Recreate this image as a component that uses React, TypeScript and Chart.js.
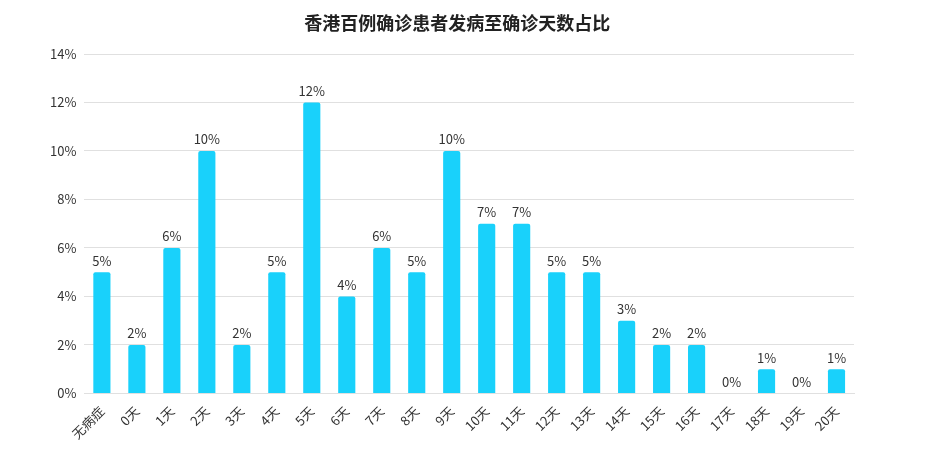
import React, { useEffect, useRef } from "react";
import { Chart, registerables } from "chart.js";

Chart.register(...registerables);

const TITLE = "香港百例确诊患者发病至确诊天数占比";
const categories = [
  "无病症", "0天", "1天", "2天", "3天", "4天", "5天", "6天", "7天", "8天", "9天",
  "10天", "11天", "12天", "13天", "14天", "15天", "16天", "17天", "18天", "19天", "20天",
];
const shares = [5, 2, 6, 10, 2, 5, 12, 4, 6, 5, 10, 7, 7, 5, 5, 3, 2, 2, 0, 1, 0, 1];
const yTicks = [0, 2, 4, 6, 8, 10, 12, 14];

const FONT = "'Noto Sans CJK SC', 'Noto Sans', sans-serif";
const BAR_COLOR = "#19d1fb";

const valueLabels = {
  id: "valueLabels",
  afterDatasetsDraw(chart: any) {
    const ctx = chart.ctx;
    const meta = chart.getDatasetMeta(0);
    ctx.save();
    ctx.font = `13px ${FONT}`;
    ctx.fillStyle = "#333333";
    ctx.textAlign = "center";
    ctx.textBaseline = "bottom";
    meta.data.forEach((el: any, i: number) => {
      ctx.fillText(shares[i] + "%", el.x, el.y - 5);
    });
    ctx.restore();
  },
};

const titlePlugin = {
  id: "customTitle",
  afterDraw(chart: any) {
    const ctx = chart.ctx;
    ctx.save();
    ctx.font = `bold 18px ${FONT}`;
    ctx.fillStyle = "#222222";
    ctx.textAlign = "center";
    ctx.textBaseline = "middle";
    const cx = (chart.chartArea.left + chart.chartArea.right) / 2 - 12;
    ctx.fillText(TITLE, cx, 15);
    ctx.restore();
  },
};

export default function App() {
  const ref = useRef<HTMLCanvasElement>(null);
  useEffect(() => {
    if (!ref.current) return;
    const chart = new Chart(ref.current, {
      type: "bar",
      data: {
        labels: categories,
        datasets: [
          {
            data: shares,
            backgroundColor: BAR_COLOR,
            borderRadius: { topLeft: 2, topRight: 2 },
            borderSkipped: false,
            barPercentage: 0.49,
            categoryPercentage: 1,
          },
        ],
      },
      options: {
        animation: false,
        responsive: true,
        maintainAspectRatio: false,
        layout: { padding: { left: 34, right: 78, top: 46, bottom: 4 } },
        plugins: {
          legend: { display: false },
          title: { display: false },
          tooltip: { enabled: false },
        },
        scales: {
          x: {
            grid: { display: false },
            border: { display: true, color: "#e0e0e0" },
            ticks: {
              autoSkip: false,
              maxRotation: 45,
              minRotation: 45,
              color: "#333333",
              font: { family: FONT, size: 13 },
              padding: 2,
            },
          },
          y: {
            min: 0,
            max: 14,
            afterBuildTicks(scale: any) {
              scale.ticks = yTicks.map((v) => ({ value: v }));
            },
            grid: { color: "#e0e0e0", drawTicks: false },
            border: { display: false },
            ticks: {
              color: "#333333",
              font: { family: FONT, size: 13 },
              padding: 8,
              callback: (v: any) => v + "%",
            },
          },
        },
      },
      plugins: [valueLabels, titlePlugin],
    });
    return () => chart.destroy();
  }, []);
  return (
    <div style={{ width: 924, height: 440, position: "relative" }}>
      <canvas ref={ref} />
    </div>
  );
}
